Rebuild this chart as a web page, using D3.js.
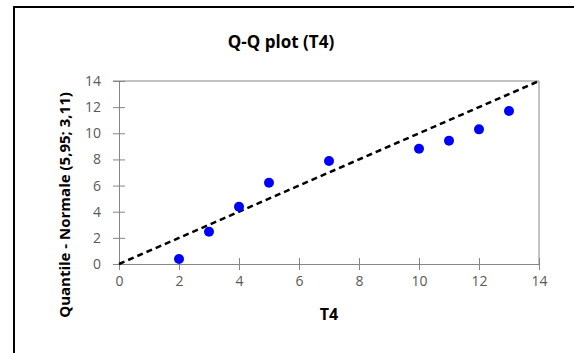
<!DOCTYPE html>
<html>
<head>
<meta charset="utf-8">
<script src="https://cdn.jsdelivr.net/npm/d3@7"></script>
<style>
  body { margin: 0; background: #fff; }
  svg { display: block; }
</style>
</head>
<body>
<svg id="chart" width="574" height="353"></svg>
<script>
// Daten: beobachtete Werte (T4) und Quantile der Normalverteilung
var t4Values = [2, 3, 4, 5, 7, 10, 11, 12, 13];
var normalQuantiles = [0.38, 2.47, 4.38, 6.22, 7.88, 8.82, 9.43, 10.3, 11.7];
var xTicks = [0, 2, 4, 6, 8, 10, 12, 14];
var yTicks = [0, 2, 4, 6, 8, 10, 12, 14];
var refLine = [0, 14];

var titleText = "Q-Q plot (T4)";
var xLabel = "T4";
var yLabel = "Quantile - Normale (5,95; 3,11)";

var svg = d3.select("#chart");
var font = "'Open Sans', 'DejaVu Sans', sans-serif";

// Rahmen (links und oben sichtbar)
svg.append("path")
  .attr("d", "M14,353 V7 H574")
  .attr("fill", "none")
  .attr("stroke", "#000")
  .attr("stroke-width", 2);

var x = d3.scaleLinear().domain([0, 14]).range([119, 539]);
var y = d3.scaleLinear().domain([0, 14]).range([264, 81]);

var axisColor = "#868686";

// Plotbereich: obere und rechte Kante
svg.append("path")
  .attr("d", "M" + (x(0) - 6) + "," + y(14) + " H" + x(14) + " V" + y(0))
  .attr("fill", "none")
  .attr("stroke", axisColor)
  .attr("stroke-width", 1);

// Achsen
var xAxis = svg.append("g")
  .attr("transform", "translate(0," + y(0) + ")")
  .call(d3.axisBottom(x).tickValues(xTicks).tickSize(6).tickSizeOuter(0));
xAxis.selectAll(".tick line").attr("y1", -6);

var yAxis = svg.append("g")
  .attr("transform", "translate(" + x(0) + ",0)")
  .call(d3.axisLeft(y).tickValues(yTicks).tickSize(6).tickSizeOuter(0));
yAxis.selectAll(".tick line").attr("x1", 6).attr("x2", -6);

svg.selectAll(".domain").attr("stroke", axisColor);
svg.selectAll(".tick line").attr("stroke", axisColor);
svg.selectAll(".tick text")
  .attr("fill", "#595959")
  .style("font-family", font)
  .style("font-size", "14px");
xAxis.selectAll(".tick text").attr("y", 12);
yAxis.selectAll(".tick text").attr("x", -18);

// Referenzlinie y = x
svg.append("line")
  .attr("x1", x(refLine[0])).attr("y1", y(refLine[0]))
  .attr("x2", x(refLine[1])).attr("y2", y(refLine[1]))
  .attr("stroke", "#000")
  .attr("stroke-width", 2.5)
  .attr("stroke-dasharray", "6,4");

// Punkte
svg.selectAll("circle.pt")
  .data(t4Values)
  .enter().append("circle")
  .attr("class", "pt")
  .attr("cx", function(d) { return x(d); })
  .attr("cy", function(d, i) { return y(normalQuantiles[i]); })
  .attr("r", 5)
  .attr("fill", "#0000ff");

// Titel und Achsentitel
svg.append("text")
  .attr("x", 281).attr("y", 48)
  .attr("text-anchor", "middle")
  .style("font-family", font)
  .style("font-weight", "bold")
  .style("font-size", "17px")
  .text(titleText);

svg.append("text")
  .attr("x", 329).attr("y", 320)
  .attr("text-anchor", "middle")
  .style("font-family", font)
  .style("font-weight", "bold")
  .style("font-size", "16px")
  .text(xLabel);

svg.append("text")
  .attr("transform", "translate(70,205) rotate(-90)")
  .attr("text-anchor", "middle")
  .style("font-family", font)
  .style("font-weight", "bold")
  .style("font-size", "15px")
  .text(yLabel);
</script>
</body>
</html>
